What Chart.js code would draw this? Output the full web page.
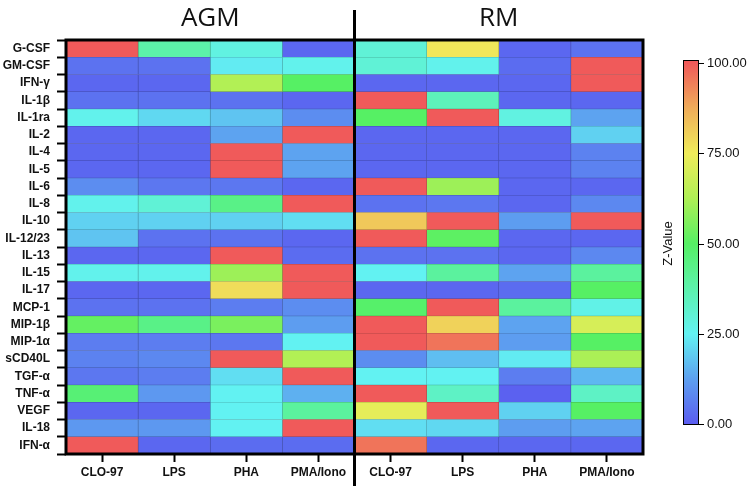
<!DOCTYPE html>
<html>
<head>
<meta charset="utf-8">
<script src="https://cdn.jsdelivr.net/npm/chart.js@4.4.4/dist/chart.umd.min.js"></script>
<style>
  html, body { margin: 0; padding: 0; background: #fff; }
  #wrap { width: 750px; height: 488px; }
</style>
</head>
<body>
<div id="wrap"><canvas id="heat" width="750" height="488"></canvas></div>
<script>
// rows (cytokines), top to bottom
const rowLabels = ["G-CSF", "GM-CSF", "IFN-γ", "IL-1β", "IL-1ra", "IL-2", "IL-4", "IL-5", "IL-6", "IL-8",
  "IL-10", "IL-12/23", "IL-13", "IL-15", "IL-17", "MCP-1", "MIP-1β", "MIP-1α", "sCD40L", "TGF-α",
  "TNF-α", "VEGF", "IL-18", "IFN-α"]

const colLabels = ["CLO-97", "LPS", "PHA", "PMA/Iono", "CLO-97", "LPS", "PHA", "PMA/Iono"]
const groupTitles = ["AGM", "RM"]
const groupCenters = [2, 6]
const zTicks = [0, 25, 50, 75, 100]

// Z-values per column, one entry per row
const agmClo = [100, 4, 2, 4, 26, 2, 2, 2, 9, 26, 20, 18, 2, 26, 2, 4, 52, 6, 7, 5, 47, 2, 11, 100]
const agmLps = [38, 4, 2, 4, 21, 2, 2, 2, 5, 30, 20, 4, 2, 26, 2, 4, 44, 6, 8, 6, 11, 2, 11, 2]
const agmPha = [28, 24, 63, 4, 18, 13, 100, 100, 5, 44, 20, 4, 100, 60, 78, 6, 55, 5, 100, 22, 25, 25, 25, 3]
const agmPma = [2, 26, 50, 2, 9, 100, 13, 13, 2, 100, 22, 2, 3, 100, 100, 9, 12, 25, 63, 100, 15, 40, 100, 3]
const rmClo = [30, 30, 2, 100, 50, 2, 2, 2, 100, 4, 82, 100, 4, 25, 2, 49, 100, 100, 9, 25, 100, 73, 22, 96]
const rmLps = [76, 26, 2, 35, 100, 2, 2, 2, 60, 5, 100, 51, 4, 40, 2, 100, 80, 96, 17, 25, 33, 100, 21, 2]
const rmPha = [2, 3, 2, 2, 28, 2, 2, 2, 2, 2, 12, 2, 2, 13, 3, 40, 13, 12, 24, 6, 1, 20, 12, 2]
const rmPma = [4, 100, 100, 2, 13, 20, 7, 7, 2, 8, 100, 2, 8, 40, 50, 27, 70, 50, 62, 16, 33, 50, 13, 2]

const columns = [agmClo, agmLps, agmPha, agmPma, rmClo, rmLps, rmPha, rmPma]

// rainbow colour map, 0 = violet blue, 100 = red
const ramp = [
  [0, [91, 92, 240]], [12.5, [93, 160, 240]], [25, [98, 242, 242]], [37.5, [92, 242, 172]],
  [50, [86, 240, 100]], [62.5, [175, 240, 85]], [75, [240, 236, 90]], [87.5, [240, 172, 90]],
  [100, [240, 90, 90]]
]

function zRgb(v) {
  for (let i = 1; i < ramp.length; i++) {
    if (v <= ramp[i][0]) {
      const [a, ca] = ramp[i - 1], [b, cb] = ramp[i]
      const t = (v - a) / (b - a)
      return ca.map((c, k) => Math.round(c + (cb[k] - c) * t))
    }
  }
  return ramp[ramp.length - 1][1]
}
const zColor = (v) => `rgb(${zRgb(v).join(",")})`
const zEdge = (v) => `rgb(${zRgb(v).map(c => Math.round(c * 0.75)).join(",")})`

// frame, group divider and colour bar
const decorations = {
  id: "decorations",
  afterDatasetsDraw(chart) {
    const { ctx, chartArea: a, scales } = chart
    ctx.save()
    ctx.strokeStyle = "#000"
    ctx.lineWidth = 3
    ctx.strokeRect(a.left, a.top, a.right - a.left, a.bottom - a.top)
    const xd = scales.x.getPixelForValue(4)
    ctx.beginPath()
    ctx.moveTo(xd, 10)
    ctx.lineTo(xd, 486)
    ctx.stroke()

    // colour bar
    const bx = 683, bw = 15, y0 = 424, y100 = 63
    const zy = (v) => y0 + (y100 - y0) * v / 100
    const g = ctx.createLinearGradient(0, y0, 0, y100)
    for (let v = 0; v <= 100; v += 2.5) g.addColorStop(v / 100, zColor(v))
    ctx.fillStyle = g
    ctx.fillRect(bx, y100 - 3, bw, y0 - y100 + 4)
    ctx.lineWidth = 1
    ctx.strokeRect(bx + 0.5, y100 - 2.5, bw, y0 - y100 + 3)
    ctx.font = "13px 'Liberation Sans', Arial, sans-serif"
    ctx.fillStyle = "#111"
    ctx.textBaseline = "middle"
    ctx.textAlign = "left"
    zTicks.forEach(v => {
      const y = Math.round(zy(v)) + 0.5
      ctx.beginPath()
      ctx.moveTo(bx + bw, y)
      ctx.lineTo(bx + bw + 6, y)
      ctx.stroke()
      ctx.fillText(v.toFixed(2), bx + bw + 9, y)
    })
    ctx.translate(668, (y0 + y100) / 2)
    ctx.rotate(-Math.PI / 2)
    ctx.textAlign = "center"
    ctx.font = "13px 'Liberation Sans', Arial, sans-serif"
    ctx.fillText("Z-Value", 0, 0)
    ctx.restore()
  }
}

new Chart(document.getElementById("heat"), {
  type: "bar",
  data: {
    labels: rowLabels,
    datasets: columns.map((vals, i) => ({
      label: colLabels[i],
      data: vals.map(() => 1),
      backgroundColor: vals.map(zColor),
      borderColor: vals.map(zEdge),
      borderWidth: 0.7,
      borderSkipped: false,
      barPercentage: 1,
      categoryPercentage: 1
    }))
  },
  options: {
    indexAxis: "y",
    responsive: false,
    animation: false,
    layout: { padding: { right: 107 } },
    plugins: {
      legend: { display: false },
      tooltip: { enabled: false }
    },
    scales: {
      x: {
        type: "linear",
        stacked: true,
        min: 0,
        max: 8,
        afterBuildTicks: (s) => { s.ticks = colLabels.map((_, i) => ({ value: i + 0.5 })) },
        afterFit: (s) => { s.height = 34 },
        ticks: {
          autoSkip: false,
          maxRotation: 0,
          color: "#111",
          padding: 3,
          font: { family: "'Liberation Sans', Arial, sans-serif", size: 12, weight: "bold" },
          callback: (v, i) => colLabels[i]
        },
        grid: { drawOnChartArea: false, tickLength: 8, tickColor: "#000", tickWidth: 2 },
        border: { display: false }
      },
      x2: {
        type: "linear",
        axis: "x",
        position: "top",
        min: 0,
        max: 8,
        afterBuildTicks: (s) => { s.ticks = groupCenters.map(v => ({ value: v })) },
        afterFit: (s) => { s.height = 40 },
        ticks: {
          autoSkip: false,
          maxRotation: 0,
          color: "#111",
          padding: 6,
          font: { family: "'Open Sans', sans-serif", size: 26 },
          callback: (v, i) => groupTitles[i]
        },
        grid: { display: false, drawTicks: false },
        border: { display: false }
      },
      y: {
        stacked: true,
        afterFit: (s) => { s.width = 66 },
        ticks: {
          autoSkip: false,
          color: "#111",
          padding: 7,
          font: { family: "'Liberation Sans', Arial, sans-serif", size: 12, weight: "bold" }
        },
        grid: { drawOnChartArea: false, tickLength: 9, tickColor: "#000", tickWidth: 2 },
        border: { display: false }
      }
    }
  },
  plugins: [decorations]
})
</script>
</body>
</html>
